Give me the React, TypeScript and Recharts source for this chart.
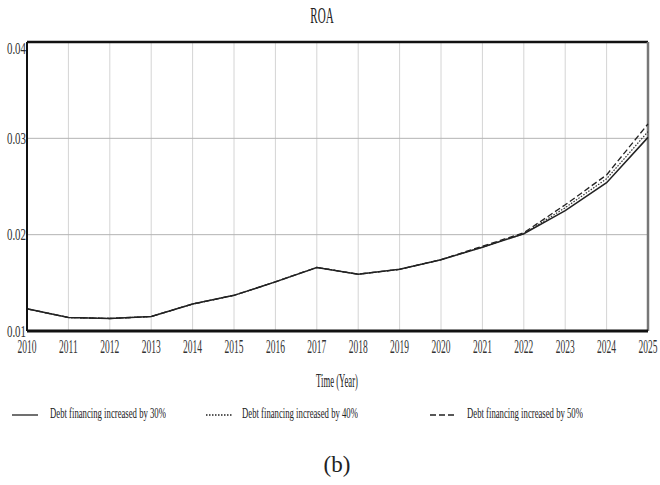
import React from "react";
import {
  LineChart,
  Line,
  XAxis,
  YAxis,
  CartesianGrid,
  ReferenceLine,
} from "recharts";

const years = [
  2010, 2011, 2012, 2013, 2014, 2015, 2016, 2017, 2018, 2019, 2020, 2021,
  2022, 2023, 2024, 2025,
];
const debt30 = [
  0.0123, 0.0114, 0.0113, 0.0115, 0.0128, 0.0137, 0.0151, 0.0166, 0.0159,
  0.0164, 0.0174, 0.0187, 0.0201, 0.0225, 0.0254, 0.0301,
];
const debt40 = [
  0.0123, 0.0114, 0.0113, 0.0115, 0.0128, 0.0137, 0.0151, 0.0166, 0.0159,
  0.0164, 0.0174, 0.0187, 0.0201, 0.0228, 0.0258, 0.0307,
];
const debt50 = [
  0.0123, 0.0114, 0.0113, 0.0115, 0.0128, 0.0137, 0.0151, 0.0166, 0.0159,
  0.0164, 0.0174, 0.0188, 0.0202, 0.0231, 0.0262, 0.0315,
];
const yTicks = [0.01, 0.02, 0.03, 0.04];
const legendNames = [
  "Debt financing increased by 30%",
  "Debt financing increased by 40%",
  "Debt financing increased by 50%",
];

const data = years.map((year, i) => ({
  year,
  d30: debt30[i],
  d40: debt40[i],
  d50: debt50[i],
}));

const serif = '"Liberation Serif", "Times New Roman", serif';

// the figure's text is squeezed horizontally, so each label is scaled in x
const XTick = (props: any) => {
  const { x, y, payload } = props;
  return (
    <text
      transform={`translate(${x},${y + 22}) scale(0.5,1)`}
      textAnchor="middle"
      fontFamily={serif}
      fontSize={19}
      fill="#333"
    >
      {payload.value}
    </text>
  );
};

const YTick = (props: any) => {
  const { x, y, payload } = props;
  const shift = payload.value === 0.04 ? 12 : 5.5;
  return (
    <text
      transform={`translate(${x - 1},${y + shift}) scale(0.64,1)`}
      textAnchor="end"
      fontFamily={serif}
      fontSize={17}
      fill="#333"
    >
      {String(payload.value)}
    </text>
  );
};

const Squeezed = ({
  left,
  top,
  size,
  scale,
  center,
  children,
}: {
  left: number;
  top: number;
  size: number;
  scale: number;
  center?: boolean;
  children: React.ReactNode;
}) => (
  <div
    style={{
      position: "absolute",
      left,
      top,
      fontFamily: serif,
      fontSize: size,
      lineHeight: 1,
      whiteSpace: "nowrap",
      color: "#222",
      transformOrigin: center ? "center" : "left",
      transform: center
        ? `translateX(-50%) scaleX(${scale})`
        : `scaleX(${scale})`,
    }}
  >
    {children}
  </div>
);

const Sample = ({ left, dash }: { left: number; dash?: string }) => (
  <svg
    width={26}
    height={4}
    style={{ position: "absolute", left, top: 413 }}
  >
    <line
      x1={0}
      y1={2}
      x2={26}
      y2={2}
      stroke="#222"
      strokeWidth={1.3}
      strokeDasharray={dash}
    />
  </svg>
);

export default function App() {
  return (
    <div
      style={{
        position: "absolute",
        left: 0,
        top: 0,
        width: 660,
        height: 485,
        background: "#fff",
      }}
    >
      <LineChart
        width={660}
        height={485}
        data={data}
        margin={{ top: 42, right: 12, left: 0, bottom: 124 }}
      >
        <CartesianGrid vertical horizontal={false} stroke="#d4d4d4" />
        <ReferenceLine y={0.02} stroke="#b4b4b4" />
        <ReferenceLine y={0.03} stroke="#b4b4b4" />
        <XAxis
          dataKey="year"
          type="number"
          domain={[2010, 2025]}
          ticks={years}
          interval={0}
          height={30}
          tickLine={false}
          tickSize={0}
          tickMargin={0}
          tick={<XTick />}
          axisLine={{ stroke: "#111", strokeWidth: 3 }}
        />
        <YAxis
          type="number"
          domain={[0.01, 0.04]}
          ticks={yTicks}
          width={27}
          tickLine={false}
          tickSize={0}
          tickMargin={0}
          tick={<YTick />}
          axisLine={{ stroke: "#111", strokeWidth: 2 }}
        />
        <ReferenceLine y={0.04} stroke="#111" strokeWidth={2.5} />
        <ReferenceLine x={2025} stroke="#777" strokeWidth={2.5} />
        <Line
          dataKey="d50"
          name={legendNames[2]}
          type="linear"
          stroke="#222"
          strokeWidth={1.3}
          strokeDasharray="6 3"
          dot={false}
          isAnimationActive={false}
        />
        <Line
          dataKey="d40"
          name={legendNames[1]}
          type="linear"
          stroke="#333"
          strokeWidth={1.2}
          strokeDasharray="1.5 1.5"
          dot={false}
          isAnimationActive={false}
        />
        <Line
          dataKey="d30"
          name={legendNames[0]}
          type="linear"
          stroke="#222"
          strokeWidth={1.5}
          dot={false}
          isAnimationActive={false}
        />
      </LineChart>

      <Squeezed left={322} top={4} size={23} scale={0.48} center>
        ROA
      </Squeezed>
      <Squeezed left={337} top={372} size={18} scale={0.48} center>
        Time (Year)
      </Squeezed>

      <Sample left={12} />
      <Squeezed left={50} top={406} size={15} scale={0.58}>
        {legendNames[0]}
      </Squeezed>
      <Sample left={206} dash="1.5 1.5" />
      <Squeezed left={242} top={406} size={15} scale={0.58}>
        {legendNames[1]}
      </Squeezed>
      <Sample left={430} dash="6 3" />
      <Squeezed left={467} top={406} size={15} scale={0.58}>
        {legendNames[2]}
      </Squeezed>

      <Squeezed left={337} top={453} size={23} scale={1} center>
        (b)
      </Squeezed>
    </div>
  );
}
